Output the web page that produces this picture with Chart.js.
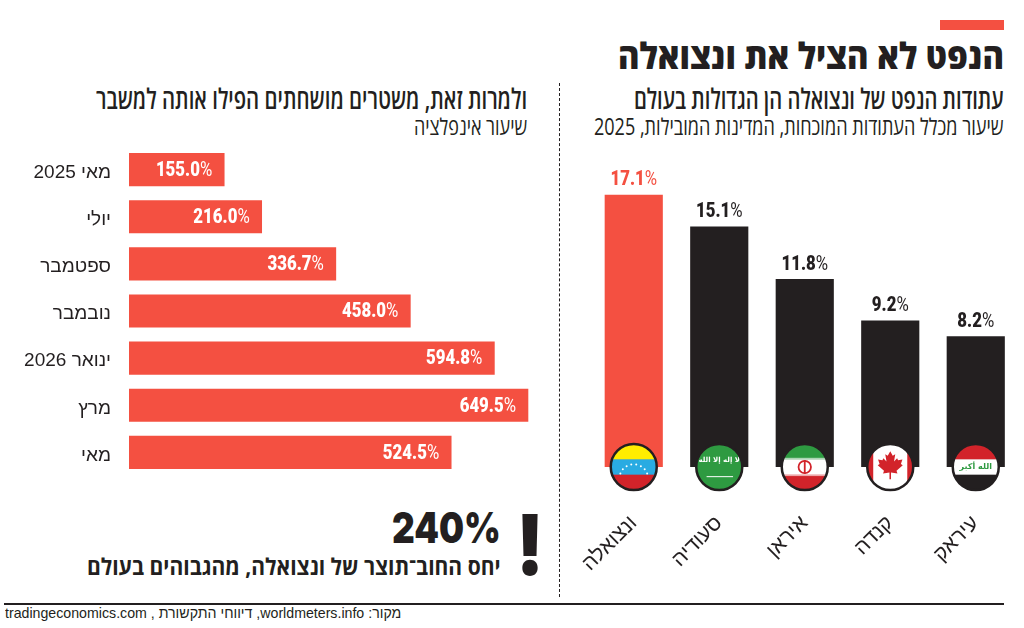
<!DOCTYPE html>
<html lang="he" dir="rtl">
<head>
<meta charset="utf-8">
<title>הנפט לא הציל את ונצואלה</title>
<script src="https://cdn.jsdelivr.net/npm/chart.js@4"></script>
<style>
  html, body { margin: 0; padding: 0; background: #fff; }
  #page { position: relative; width: 1024px; height: 628px; overflow: hidden; color: #231f20; }
  #page canvas { position: absolute; }
  .txt { position: absolute; white-space: nowrap; line-height: 1; transform-origin: right center; }
  .title { font: 800 36px "Open Sans", sans-serif; }
  .head { font: 600 28px "Open Sans", sans-serif; }
  .sub { font: 400 23px "Open Sans", sans-serif; }
  .note { font: 700 23px "Open Sans", sans-serif; }
  .big { font: 900 43px Inter, sans-serif; }
  .bang { font: 900 84px Inter, sans-serif; }
  .src { font: 400 15px "Liberation Sans", sans-serif; }
  #accent { position: absolute; left: 940px; top: 20px; width: 64px; height: 10px; background: #f45041; }
  #baseRule { position: absolute; left: 4px; top: 603px; width: 1000px; height: 2px; background: #231f20; }
  #divider { position: absolute; left: 559px; top: 83px; height: 514px; border-left: 1.5px dashed #231f20; }
</style>
</head>
<body>
<div id="page">
  <div id="accent"></div>
  <div class="txt title" data-w="386" style="right:20px;top:31px">הנפט לא הציל את ונצואלה</div>
  <div class="txt head" data-w="370" style="right:20px;top:79px">עתודות הנפט של ונצואלה הן הגדולות בעולם</div>
  <div class="txt sub" data-w="410" style="right:20px;top:110px">שיעור מכלל העתודות המוכחות, המדינות המובילות, 2025</div>
  <div class="txt head" data-w="431" style="right:497px;top:79px">ולמרות זאת, משטרים מושחתים הפילו אותה למשבר</div>
  <div class="txt sub" data-w="113" style="right:497px;top:110px">שיעור אינפלציה</div>
  <div id="divider"></div>

  <canvas id="inflationChart" dir="rtl" width="559" height="330" style="left:0;top:146px;width:559px;height:330px"></canvas>
  <canvas id="reservesChart" dir="rtl" width="463" height="451" style="left:561px;top:149px;width:463px;height:451px"></canvas>

  <div class="txt big" data-w="109" dir="ltr" style="right:523px;top:501px">240%</div>
  <div class="txt bang" data-w="28" style="right:480px;top:494px">!</div>
  <div class="txt note" data-w="414" style="right:523px;top:550px">יחס החוב־תוצר של ונצואלה, מהגבוהים בעולם</div>
  <div id="baseRule"></div>
  <div class="txt src" data-w="396" style="right:623px;top:604px">מקור: worldmeters.info, דיווחי התקשורת , tradingeconomics.com</div>
</div>

<script>
(function () {
  'use strict';

  // ── Data ────────────────────────────────────────────────────────────────
  const months = ['מאי 2025', 'יולי', 'ספטמבר', 'נובמבר', 'ינואר 2026', 'מרץ', 'מאי'];
  const inflation = [155.0, 216.0, 336.7, 458.0, 594.8, 649.5, 524.5];

  const countries = ['ונצואלה', 'סעודיה', 'איראן', 'קנדה', 'עיראק'];
  const reserves = [17.1, 15.1, 11.8, 9.2, 8.2];
  const highlighted = 'ונצואלה';

  const RED = '#f45041';
  const INK = '#231f20';
  const LABEL_FONT = 'Roboto, "Liberation Sans", sans-serif';
  const SQUEEZE = 0.8;

  // ── Text fitting: squeeze each heading to its column width ──────────────
  document.querySelectorAll('.txt').forEach((el) => {
    const target = Number(el.dataset.w);
    el.style.transform = `scaleX(${target / el.offsetWidth})`;
  });

  // ── Value labels: bold condensed number with a lighter percent sign ─────
  function drawValue(ctx, value, x, y, color, align) {
    const num = value.toFixed(1);
    ctx.save();
    ctx.direction = 'ltr';
    ctx.fillStyle = color;
    ctx.textBaseline = 'middle';
    ctx.textAlign = 'left';
    ctx.font = `900 21px ${LABEL_FONT}`;
    const numW = ctx.measureText(num).width;
    ctx.font = `400 21px ${LABEL_FONT}`;
    const pctW = ctx.measureText('%').width;
    const total = numW + pctW;
    ctx.translate(align === 'center' ? x - (total * SQUEEZE) / 2 : x - total * SQUEEZE, y);
    ctx.scale(SQUEEZE, 1);
    ctx.font = `900 21px ${LABEL_FONT}`;
    ctx.fillText(num, 0, 0);
    ctx.font = `400 21px ${LABEL_FONT}`;
    ctx.fillText('%', numW, 0);
    ctx.restore();
  }

  const barEndLabels = {
    id: 'barEndLabels',
    afterDatasetsDraw(chart) {
      chart.getDatasetMeta(0).data.forEach((bar, i) => {
        drawValue(chart.ctx, inflation[i], bar.x - 12, bar.y + 1, '#fff', 'end');
      });
    },
  };

  const barTopLabels = {
    id: 'barTopLabels',
    afterDatasetsDraw(chart) {
      chart.getDatasetMeta(0).data.forEach((bar, i) => {
        const color = countries[i] === highlighted ? RED : INK;
        drawValue(chart.ctx, reserves[i], bar.x, bar.y - 15, color, 'center');
      });
    },
  };

  // ── Flags ───────────────────────────────────────────────────────────────
  function bands(ctx, r, colors) {
    const h = (2 * r) / colors.length;
    colors.forEach((c, i) => {
      ctx.fillStyle = c;
      ctx.fillRect(-r, -r + i * h, 2 * r, h + 0.5);
    });
  }

  function flagText(ctx, str, x, y, size, color) {
    ctx.fillStyle = color;
    ctx.font = `bold ${size}px "DejaVu Sans", sans-serif`;
    ctx.textAlign = 'center';
    ctx.textBaseline = 'middle';
    ctx.fillText(str, x, y);
  }

  const LEAF = [[0, -0.95], [0.16, -0.65], [0.32, -0.75], [0.24, -0.28], [0.44, -0.5], [0.5, -0.36],
    [0.78, -0.42], [0.68, -0.12], [0.8, -0.05], [0.4, 0.3], [0.46, 0.48], [0.05, 0.42], [0.05, 0.85]];

  const flagPainters = {
    'ונצואלה': (ctx, r) => {
      bands(ctx, r, ['#ffed00', '#29abe2', '#d2232a']);
      ctx.fillStyle = '#fff';
      for (let a = -70; a <= 70; a += 20) {
        const t = (a * Math.PI) / 180;
        ctx.beginPath();
        ctx.arc(Math.sin(t) * r * 0.62, Math.cos(t) * -r * 0.62 + r * 0.5, 1, 0, Math.PI * 2);
        ctx.fill();
      }
    },
    'סעודיה': (ctx, r) => {
      bands(ctx, r, ['#2e9a41']);
      flagText(ctx, 'لا إله إلا الله', 0, -r * 0.3, 7, '#fff');
      ctx.strokeStyle = '#fff';
      ctx.lineWidth = 1;
      ctx.beginPath();
      ctx.moveTo(-r * 0.55, r * 0.42);
      ctx.lineTo(r * 0.6, r * 0.42);
      ctx.stroke();
    },
    'איראן': (ctx, r) => {
      bands(ctx, r, ['#2e9a41', '#fff', '#d2232a']);
      // dotted edges between the stripes
      ctx.fillStyle = 'rgba(255,255,255,0.6)';
      ctx.fillRect(-r, -r * 0.4, 2 * r, 1.5);
      ctx.fillRect(-r, r * 0.33, 2 * r, 1.5);
      ctx.strokeStyle = '#d2232a';
      ctx.lineWidth = 1.8;
      ctx.beginPath();
      ctx.arc(0, 0, r * 0.27, 0, Math.PI * 2);
      ctx.stroke();
      ctx.beginPath();
      ctx.moveTo(0, -r * 0.3);
      ctx.lineTo(0, r * 0.3);
      ctx.stroke();
    },
    'קנדה': (ctx, r) => {
      bands(ctx, r, ['#fff']);
      ctx.fillStyle = '#d2232a';
      ctx.fillRect(-r, -r, r * 0.26, 2 * r);
      ctx.fillRect(r * 0.74, -r, r * 0.26, 2 * r);
      ctx.beginPath();
      const s = r * 0.68;
      LEAF.forEach(([x, y], i) => (i ? ctx.lineTo(x * s, y * s - 1) : ctx.moveTo(x * s, y * s - 1)));
      LEAF.slice().reverse().forEach(([x, y]) => ctx.lineTo(-x * s, y * s - 1));
      ctx.fill();
    },
    'עיראק': (ctx, r) => {
      bands(ctx, r, ['#d2232a', '#fff', INK]);
      flagText(ctx, 'الله أكبر', 0, 0, 8, '#2e9a41');
    },
  };

  const flagBadges = {
    id: 'flagBadges',
    afterDatasetsDraw(chart) {
      const { ctx } = chart;
      const base = chart.scales.y.getPixelForValue(0);
      const r = 23;
      chart.getDatasetMeta(0).data.forEach((bar, i) => {
        ctx.save();
        ctx.translate(bar.x, base);
        ctx.save();
        ctx.beginPath();
        ctx.arc(0, 0, r, 0, Math.PI * 2);
        ctx.clip();
        flagPainters[countries[i]](ctx, r);
        ctx.restore();
        ctx.beginPath();
        ctx.arc(0, 0, r, 0, Math.PI * 2);
        ctx.lineWidth = 2.5;
        ctx.strokeStyle = INK;
        ctx.stroke();
        ctx.restore();
      });
    },
  };

  // ── Charts ──────────────────────────────────────────────────────────────
  const sharedOptions = {
    responsive: false,
    animation: false,
    events: [],
    plugins: { legend: { display: false }, tooltip: { enabled: false } },
  };

  new Chart(document.getElementById('inflationChart'), {
    type: 'bar',
    data: { labels: months, datasets: [{ data: inflation, backgroundColor: RED, barThickness: 32.5 }] },
    plugins: [barEndLabels],
    options: {
      ...sharedOptions,
      indexAxis: 'y',
      layout: { padding: 0 },
      scales: {
        x: { display: false, min: 0, max: 700 },
        y: {
          afterFit(scale) {
            scale.width = 129;
            scale.paddingTop = 0;
            scale.paddingBottom = 0;
          },
          grid: { display: false },
          border: { display: false },
          ticks: {
            color: INK,
            padding: 10,
            labelOffset: 3,
            font: { family: '"Liberation Sans", sans-serif', size: 19 },
          },
        },
      },
    },
  });

  new Chart(document.getElementById('reservesChart'), {
    type: 'bar',
    data: {
      labels: countries,
      datasets: [{
        data: reserves,
        barThickness: 57.5,
        backgroundColor: (c) => (countries[c.dataIndex] === highlighted ? RED : INK),
      }],
    },
    plugins: [barTopLabels, flagBadges],
    options: {
      ...sharedOptions,
      layout: { padding: { left: 30, right: 5.5 } },
      scales: {
        y: { display: false, min: 0, max: 20 },
        x: {
          afterFit(scale) {
            scale.height = 133;
            scale.paddingLeft = 0;
            scale.paddingRight = 0;
          },
          grid: { display: false },
          border: { display: false },
          ticks: {
            color: INK,
            padding: 36,
            minRotation: 45,
            maxRotation: 45,
            autoSkip: false,
            font: { family: '"Liberation Sans", sans-serif', size: 21 },
          },
        },
      },
    },
  });
})();
</script>
</body>
</html>
